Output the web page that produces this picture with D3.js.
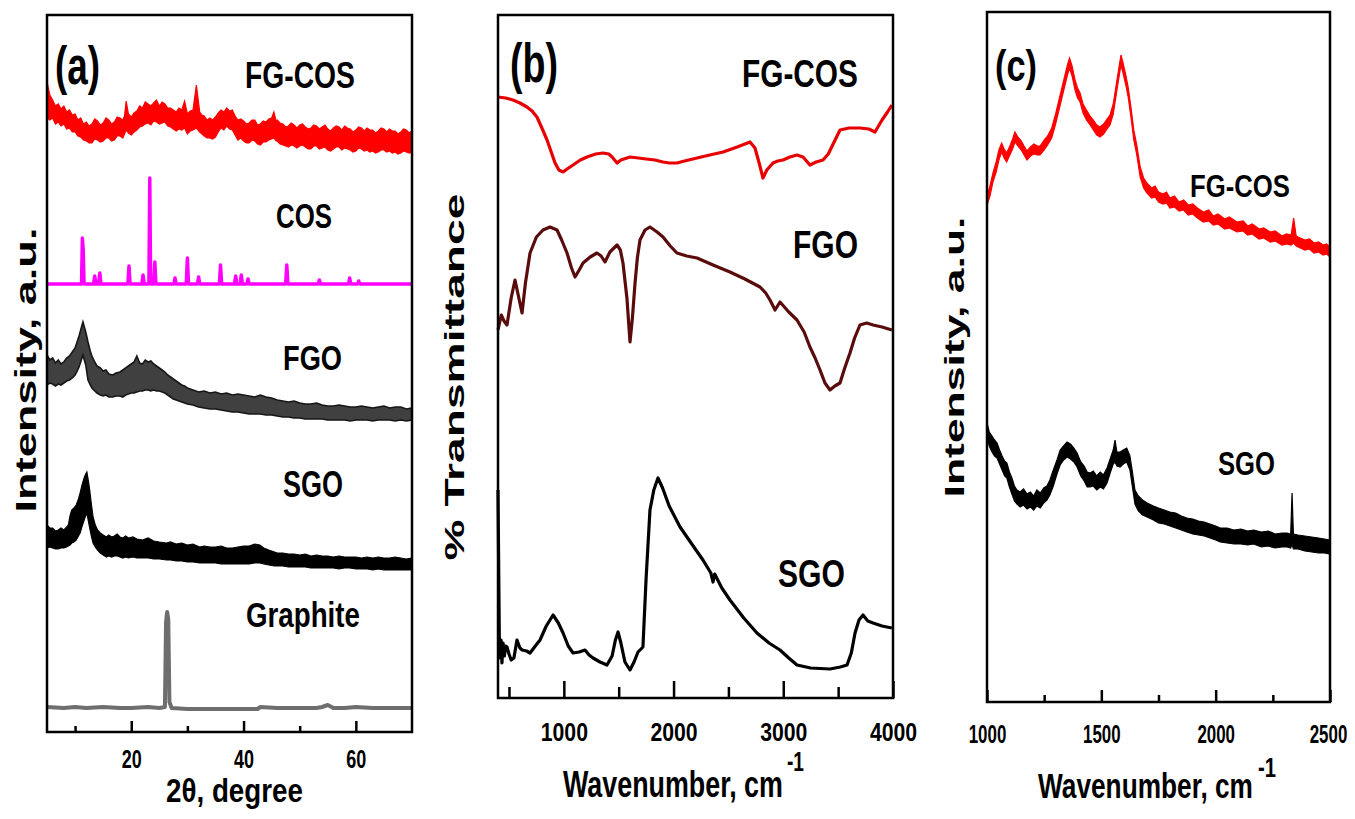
<!DOCTYPE html>
<html>
<head>
<meta charset="utf-8">
<script src="https://cdn.jsdelivr.net/npm/d3@7"></script>
<style>
  body { margin: 0; background: #fff; }
  svg { display: block; }
  text { font-family: "Liberation Sans", Arial, sans-serif; font-weight: bold; }
</style>
</head>
<body>
<svg id="fig" width="1355" height="819"></svg>
<script>
// ---------- (a) XRD patterns: 2θ (degree) vs. stacked intensity (a.u.) ----------
const xrdMajorTicks = [20, 40, 60];
const xrdMinorTicks = [10, 30, 50];

// noisy traces are given as [2θ, upper edge, lower edge] of the recorded band
const xrdFGCOS = [
  [5,650,614],[5.5,637,612],[6,632,614],[6.5,626,608],[7,628,610],[7.5,623,606],[8,626,608],[8.5,620,603],
  [9,622,604],[9.5,617,600],[10,618,600],[10.5,612,596],[11,614,595],[11.5,608,592],[12,610,591],[12.5,606,589],
  [13,608,589],[13.5,613,593],[14,611,592],[14.5,607,590],[15,609,591],[15.5,614,594],[16,612,594],[16.5,608,591],
  [17,610,592],[17.5,615,596],[18,614,596],[18.5,612,594],[18.8,616,598],[19.1,631,602],[19.5,618,599],[20,615,597],
  [20.5,619,600],[21,621,602],[21.5,626,605],[22,624,606],[22.5,630,608],[23,628,609],[23.5,626,607],[24,629,611],
  [24.5,632,610],[25,626,608],[25.5,630,609],[26,628,610],[26.5,624,606],[27,624,605],[27.5,622,603],[28,620,601],
  [28.5,624,603],[29,622,602],[29.5,631,604],[30,618,598],[30.5,621,601],[31,622,602],[31.6,647,604],[32.2,620,600],
  [32.6,617,598],[33,616,596],[33.5,612,594],[34,614,594],[34.5,612,593],[35,615,595],[35.5,619,600],[36,622,604],
  [36.5,620,602],[37,624,606],[37.5,621,603],[38,622,602],[38.5,616,597],[39,612,592],[39.5,613,594],[40,611,591],
  [40.5,608,589],[41,609,589],[41.5,612,592],[42,612,591],[42.5,607,588],[43,608,587],[43.5,611,590],[44,610,590],
  [44.5,613,592],[45,614,593],[45.4,620,594],[45.8,611,591],[46,612,591],[46.5,609,588],[47,608,587],[47.5,605,586],
  [48,606,585],[48.5,609,587],[49,607,586],[49.5,604,584],[50,607,586],[50.5,608,587],[51,605,585],[51.5,603,583],
  [52,604,583],[52.5,607,586],[53,606,586],[53.5,603,583],[54,605,584],[54.5,607,585],[55,603,582],[55.5,601,581],
  [56,604,583],[56.5,606,585],[57,605,585],[57.5,602,582],[58,606,584],[58.5,604,583],[59,603,582],[59.5,600,580],
  [60,602,581],[60.5,605,584],[61,604,583],[61.5,601,581],[62,604,582],[62.5,602,580],[63,602,581],[63.5,599,579],
  [64,601,580],[64.5,604,582],[65,603,582],[65.5,600,580],[66,603,581],[66.5,601,579],[67,601,580],[67.5,598,578],
  [68,600,579],[68.5,603,581],[69,602,580],[69.5,599,579],[70,601,580]
];

// sharp-line pattern: [2θ, intensity]
const xrdCOS = [
  [5,448],[11.15,448],[11.3,494],[11.45,482],[11.6,448],[13.3,448],[13.5,456],[13.7,448],
  [14.2,448],[14.4,459],[14.6,448],[19.4,448],[19.6,466],[19.8,448],[21.9,448],[22.1,457],[22.3,448],
  [23.15,448],[23.3,554],[23.45,448],[24.0,448],[24.2,470],[24.4,448],[27.6,448],[27.8,454],[28.0,448],
  [29.8,448],[30.0,474],[30.2,448],[31.8,448],[32.0,455],[32.2,448],[35.7,448],[35.9,467],[36.1,448],
  [38.4,448],[38.6,456],[38.8,448],[39.4,448],[39.6,457],[39.8,448],[40.6,448],[40.8,453],[41.0,448],
  [47.5,448],[47.7,467],[47.9,448],[53.3,448],[53.5,452],[53.7,448],[58.7,448],[58.9,454],[59.1,448],
  [60.3,448],[60.5,451],[60.7,448],[70,448]
];

const xrdFGO = [
  [5,377,347],[5.5,372,349],[6,374,348],[6.5,369,346],[7,372,348],[7.5,368,347],[8,370,349],[8.5,374,351],
  [9,376,352],[9.5,380,354],[10,384,357],[10.3,389,360],[10.7,396,365],[11,402,370],[11.4,410,377],[11.9,400,367],
  [12.3,390,352],[12.7,381,347],[13,376,344],[13.5,370,341],[13.9,366,339],[14.5,364,337],[15,361,336],[15.5,362,337],
  [16,358,335],[16.7,357,335],[17.3,359,336],[18,360,336],[18.5,362,335],[19,364,337],[19.5,366,338],[20,368,339],
  [20.5,370,339],[21,376,340],[21.5,369,341],[22,368,341],[22.5,372,342],[23,370,342],[23.5,371,341],[24,368,342],
  [24.5,366,341],[25,364,341],[25.5,362,340],[26,360,339],[26.5,357,337],[27,355,335],[27.5,353,333],[28,351,332],
  [28.5,349,331],[29,347,330],[29.5,346,329],[30,344,328],[31,342,327],[32,340,325],[33,341,324],[34,339,323],
  [35,340,323],[36,338,322],[37,339,321],[38,337,320],[39,338,320],[40,337,319],[41,336,318],[42,335,318],
  [43,337,318],[44,335,317],[45,334,317],[46,332,316],[47,331,315],[48,330,315],[49,331,314],[50,329,314],
  [51,328,313],[52,328,313],[53,329,313],[54,327,313],[55,326,312],[56,326,312],[57,327,312],[58,326,312],
  [59,325,311],[60,325,312],[61,326,312],[62,325,312],[63,324,311],[64,325,312],[65,326,312],[66,324,312],
  [67,325,311],[68,325,312],[69,323,311],[70,324,312]
];

const xrdSGO = [
  [5,207,184],[5.5,204,185],[6,204,184],[6.5,201,183],[7,202,183],[7.5,204,184],[8,202,184],[8.5,205,185],
  [8.8,207,186],[9.1,216,187],[9.4,222,189],[9.8,224,190],[10.2,227,192],[10.6,233,196],[10.9,239,199],[11.2,246,205],
  [11.5,252,210],[11.8,257,215],[12.1,260,219],[12.4,250,210],[12.6,242,204],[12.9,228,196],[13.2,215,189],[13.6,207,185],
  [14,202,182],[14.5,199,179],[15,197,177],[15.6,195,175],[16,197,176],[16.5,195,175],[17,196,176],[17.5,198,176],
  [18,195,175],[18.5,194,174],[19,196,175],[19.5,194,174],[20.3,195,175],[21,193,174],[22,192,174],[23,194,174],
  [24,191,173],[25,190,173],[26.3,189,172],[27,190,172],[28,188,171],[29,189,171],[30,187,170],[31,188,170],
  [32.2,185,169],[33,186,169],[34,185,169],[35,185,169],[36,186,168],[37,184,168],[38,184,168],[39,185,168],
  [40,186,168],[41,186,168],[42,188,169],[42.9,187,169],[43.6,184,168],[44.5,182,167],[45.5,180,166],[46,179,166],
  [47,179,166],[48,178,165],[49,178,165],[50,177,165],[51,178,165],[52,176,164],[53,177,164],[54,176,164],
  [55,176,164],[56,175,164],[57,176,163],[58,175,164],[58.9,175,164],[60,175,163],[61,174,163],[62,175,163],
  [63,174,162],[64,175,163],[65,174,162],[66,174,162],[67,175,162],[68,174,162],[69,173,162],[70,174,162]
];

const xrdGraphite = [
  [5,25],[8,24],[10,25],[12,24],[15,25],[18,24],[20,24],[23,25],[25,24],[26.0,25],[26.2,110],[26.4,120],
  [26.6,112],[26.8,30],[27.2,24],[30,23],[35,23],[40,23],[42.5,23],[43,25],[46,24],[50,24],[53,24],
  [54,25],[55,27],[56,24],[58,24],[60,25],[63,24],[66,24],[70,24]
];

// ---------- (b) FTIR spectra: wavenumber (cm-1) vs. stacked % transmittance ----------
const ftirMajorTicks = [1000, 2000, 3000, 4000];
const ftirMinorTicks = [500, 1500, 2500, 3500];

const ftirFGCOS = [
  [400,601],[470,600],[537,598],[600,595],[664,591],[710,587],[755,581],[800,570],[847,558],[885,546],
  [920,535],[955,528],[993,526],[1030,529],[1084,533],[1150,538],[1211,541],[1290,544],[1357,545],[1410,544],
  [1440,541],[1470,537],[1485,535],[1520,538],[1603,541],[1680,540],[1750,539],[1830,538],[1904,536],[1960,535],
  [2031,535],[2100,537],[2214,540],[2330,543],[2451,546],[2580,551],[2697,556],[2742,550],[2780,535],[2815,520],
  [2850,528],[2906,535],[2950,537],[2998,538],[3060,541],[3125,543],[3180,541],[3243,533],[3300,536],[3362,538],
  [3410,544],[3450,553],[3517,568],[3600,570],[3699,570],[3780,569],[3836,566],[3900,578],[3950,586],[3990,593]
];

const ftirFGO = [
  [400,368],[430,383],[455,377],[482,373],[520,400],[555,418],[590,400],[619,385],[650,415],[692,445],
  [750,461],[810,468],[874,471],[938,468],[980,458],[1029,445],[1070,430],[1102,421],[1140,428],[1175,435],
  [1240,441],[1302,445],[1340,442],[1375,436],[1420,446],[1485,453],[1515,448],[1539,435],[1575,400],[1603,356],
  [1625,380],[1649,415],[1670,440],[1694,458],[1740,468],[1785,471],[1850,466],[1904,461],[1970,452],[2031,445],
  [2120,442],[2214,440],[2360,433],[2514,426],[2650,419],[2788,411],[2840,405],[2879,398],[2925,388],[2970,396],
  [3050,386],[3125,378],[3190,366],[3243,351],[3290,340],[3335,328],[3380,315],[3426,308],[3470,312],[3517,315],
  [3560,330],[3608,345],[3650,360],[3699,373],[3760,375],[3818,373],[3900,371],[3990,368]
];

const ftirSGO = [
  [400,208],[412,60],[420,40],[428,58],[436,35],[446,55],[458,42],[470,52],[482,51],[500,44],
  [520,38],[545,40],[573,58],[600,50],[620,48],[660,47],[692,45],[740,52],[783,58],[840,72],
  [902,83],[950,75],[993,65],[1040,52],[1084,45],[1140,46],[1193,48],[1230,43],[1266,40],[1330,36],
  [1393,33],[1440,42],[1470,58],[1494,66],[1520,55],[1557,36],[1603,28],[1640,36],[1676,46],[1721,51],
  [1750,120],[1785,188],[1820,208],[1858,220],[1900,210],[1960,192],[2059,171],[2160,155],[2268,138],[2340,125],
  [2360,116],[2375,124],[2440,110],[2514,98],[2640,80],[2760,65],[2870,55],[2970,48],[3050,40],[3125,33],
  [3250,30],[3426,29],[3520,31],[3581,33],[3620,45],[3654,65],[3690,78],[3727,83],[3770,77],[3818,75],
  [3900,72],[3990,70]
];

// ---------- (c) Raman spectra: Raman shift (cm-1) vs. stacked intensity (a.u.) ----------
const ramanMajorTicks = [1000, 1500, 2000, 2500];
const ramanMinorTicks = [1250, 1750, 2250];

// [wavenumber, upper edge, lower edge]
const ramanFGCOS = [
  [1000,506,497],[1013,516,506],[1026,529,520],[1040,540,530],[1052,552,542],[1064,559,550],[1075,553,544],[1086,549,540],
  [1100,556,547],[1112,563,553],[1122,570,560],[1135,565,556],[1150,561,552],[1162,556,547],[1175,551,542],[1190,555,546],
  [1205,558,548],[1220,556,547],[1232,556,547],[1250,562,552],[1265,566,557],[1283,574,564],[1300,588,578],[1320,607,597],
  [1340,626,616],[1353,638,628],[1361,644,634],[1372,636,626],[1385,622,612],[1396,614,604],[1407,609,600],[1420,598,589],
  [1435,592,582],[1451,586,577],[1465,582,572],[1480,577,567],[1494,575,565],[1510,578,568],[1525,583,573],[1538,587,577],
  [1552,598,588],[1567,620,610],[1578,636,626],[1586,647,637],[1596,638,628],[1608,626,616],[1618,614,604],[1630,594,584],
  [1642,572,562],[1655,557,547],[1670,535,525],[1685,524,514],[1699,519,509],[1720,514,504],[1735,516,505],[1750,510,500],
  [1770,508,498],[1785,510,499],[1800,504,494],[1820,506,495],[1840,500,491],[1860,502,492],[1880,497,487],[1900,498,488],
  [1920,494,484],[1946,490,480],[1970,492,481],[1990,486,477],[2010,488,478],[2040,483,473],[2060,485,474],[2093,480,470],
  [2120,481,471],[2140,476,467],[2160,478,468],[2190,473,463],[2210,474,464],[2239,470,460],[2260,471,461],[2290,466,457],
  [2310,468,458],[2330,467,457],[2341,484,459],[2352,466,456],[2370,464,454],[2390,462,452],[2410,463,453],[2430,459,449],
  [2450,460,450],[2470,457,447],[2485,458,448],[2500,455,445]
];

const ramanSGO = [
  [1000,279,265],[1010,270,256],[1022,266,250],[1033,262,246],[1044,259,244],[1055,252,238],[1066,246,232],[1077,241,226],
  [1087,239,224],[1098,230,215],[1109,224,208],[1120,216,201],[1131,212,198],[1145,210,195],[1160,213,197],[1175,208,193],
  [1190,210,195],[1204,206,192],[1218,212,196],[1233,209,194],[1248,214,199],[1262,216,202],[1275,222,207],[1290,232,216],
  [1306,242,228],[1320,252,237],[1335,256,242],[1350,260,245],[1365,258,243],[1380,254,240],[1394,249,235],[1410,240,226],
  [1425,236,221],[1438,230,215],[1451,229,215],[1465,231,216],[1480,226,212],[1495,230,215],[1509,227,213],[1525,234,219],
  [1540,244,230],[1552,252,238],[1560,262,240],[1568,250,236],[1582,250,235],[1596,252,238],[1611,254,240],[1625,246,232],
  [1636,230,215],[1647,212,198],[1662,206,191],[1680,202,187],[1700,199,185],[1728,196,182],[1750,194,179],[1775,192,178],
  [1800,190,176],[1825,189,174],[1850,186,172],[1874,184,170],[1900,183,168],[1925,181,167],[1950,180,166],[1975,178,164],
  [2000,176,162],[2020,174,160],[2050,174,159],[2080,172,158],[2110,173,158],[2140,171,157],[2166,172,158],[2200,170,155],
  [2230,171,156],[2260,168,154],[2290,169,155],[2312,169,155],[2328,168,154],[2334,209,158],[2340,168,153],[2360,167,153],
  [2390,166,151],[2420,165,150],[2450,164,149],[2475,163,149],[2500,162,148]
];

// ---------- drawing ----------
const svg = d3.select("#fig");

// Size a text so its advance equals `len` and stretch its glyphs vertically
// to an apparent em size of `f`; returns the vertical stretch factor.
function fitText(sel, len, f) {
  sel.attr("font-size", f);
  const w = sel.node().getComputedTextLength();
  const f2 = f * len / w;
  sel.attr("font-size", f2);
  return f / f2;
}

function panel(cfg) {
  const g = svg.append("g");
  const x = d3.scaleLinear().domain(cfg.xDomain).range([cfg.left, cfg.right]);
  const y = d3.scaleLinear().domain([0, cfg.bottom - cfg.top]).range([cfg.bottom, cfg.top]);

  cfg.bands.forEach(b => {
    const area = d3.area().x(d => x(d[0])).y0(d => y(d[2])).y1(d => y(d[1]));
    g.append("path").datum(b.data).attr("d", area)
      .attr("fill", b.color).attr("stroke", b.edgeColor || b.color)
      .attr("stroke-width", b.edge || 1.2).attr("stroke-linejoin", "miter");
  });
  cfg.lines.forEach(l => {
    const line = d3.line().x(d => x(d[0])).y(d => y(d[1]));
    g.append("path").datum(l.data).attr("d", line)
      .attr("fill", "none").attr("stroke", l.color)
      .attr("stroke-width", l.width).attr("stroke-linejoin", "round");
  });

  // frame
  g.append("rect").attr("x", cfg.left).attr("y", cfg.top)
    .attr("width", cfg.right - cfg.left).attr("height", cfg.bottom - cfg.top)
    .attr("fill", "none").attr("stroke", "#000").attr("stroke-width", 2.5);

  // inward ticks on the bottom axis
  const major = d3.axisBottom(x).tickValues(cfg.major).tickSize(-cfg.majorLen)
    .tickFormat(d3.format("d"));
  const minor = d3.axisBottom(x).tickValues(cfg.minor).tickSize(-cfg.minorLen).tickFormat("");
  const ga = g.append("g").attr("transform", `translate(0,${cfg.bottom})`).call(major);
  const gm = g.append("g").attr("transform", `translate(0,${cfg.bottom})`).call(minor);
  [ga, gm].forEach(s => {
    s.select(".domain").remove();
    s.selectAll("line").attr("stroke", "#000").attr("stroke-width", 2.5);
  });
  ga.attr("font-family", null).attr("font-size", null);
  ga.selectAll("text").each(function (d, i, nodes) {
    const t = d3.select(this).attr("fill", "#000").attr("y", 0).attr("dy", null);
    const k = fitText(t, String(d).length * cfg.digitW, cfg.tickFont);
    const dx = (cfg.lastShift && i === nodes.length - 1) ? cfg.lastShift : 0;
    t.attr("transform", `translate(${dx},${cfg.labelBase}) scale(1,${k})`);
  });

  // texts
  cfg.texts.forEach(t => {
    const el = g.append("text").text(t.s).attr("fill", "#000")
      .attr("text-anchor", t.anchor || "start");
    const k = fitText(el, t.len, t.f);
    el.attr("transform", `translate(${t.x},${t.y})${t.rot ? " rotate(-90)" : ""} scale(1,${k})`);
  });
}

panel({
  left: 47, right: 412, top: 15, bottom: 732, xDomain: [5, 70],
  major: xrdMajorTicks, minor: xrdMinorTicks, majorLen: 11, minorLen: 6, labelBase: 36,
  tickFont: 26, digitW: 10,
  bands: [
    { data: xrdFGCOS, color: "#ff0000" },
    { data: xrdFGO, color: "#404040", edgeColor: "#161616", edge: 1.6 },
    { data: xrdSGO, color: "#000000" }
  ],
  lines: [
    { data: xrdCOS, color: "#ff00ff", width: 3.5 },
    { data: xrdGraphite, color: "#6e6e6e", width: 4 }
  ],
  texts: [
    { s: "(a)", x: 55, y: 84, f: 54, len: 45 },
    { s: "FG-COS", x: 245, y: 88, f: 36, len: 110 },
    { s: "COS", x: 276, y: 228, f: 36, len: 56 },
    { s: "FGO", x: 283, y: 370, f: 36, len: 59 },
    { s: "SGO", x: 283, y: 497, f: 36, len: 60 },
    { s: "Graphite", x: 246, y: 627, f: 36, len: 114 },
    { s: "2θ, degree", x: 166, y: 802, f: 34, len: 137 },
    { s: "Intensity, a.u.", x: 36, y: 370, f: 30, len: 285, rot: true, anchor: "middle" }
  ]
});

panel({
  left: 498, right: 893, top: 15, bottom: 698, xDomain: [400, 4000],
  major: ftirMajorTicks, minor: ftirMinorTicks, majorLen: 17, minorLen: 11, labelBase: 43,
  tickFont: 26, digitW: 11.8,
  bands: [],
  lines: [
    { data: ftirFGCOS, color: "#e80000", width: 3.2 },
    { data: ftirFGO, color: "#5a0c0c", width: 3.2 },
    { data: ftirSGO, color: "#000000", width: 3.2 }
  ],
  texts: [
    { s: "(b)", x: 510, y: 82, f: 56, len: 48 },
    { s: "FG-COS", x: 742, y: 87, f: 38, len: 116 },
    { s: "FGO", x: 793, y: 258, f: 38, len: 65 },
    { s: "SGO", x: 778, y: 587, f: 38, len: 67 },
    { s: "Wavenumber, cm", x: 563, y: 797, f: 36, len: 220 },
    { s: "-1", x: 787, y: 771, f: 28, len: 17 },
    { s: "% Transmittance", x: 464, y: 377, f: 28, len: 367, rot: true, anchor: "middle" }
  ]
});

panel({
  left: 987, right: 1330, top: 12, bottom: 702, xDomain: [1000, 2500],
  major: ramanMajorTicks, minor: ramanMinorTicks, majorLen: 12, minorLen: 7, labelBase: 41,
  tickFont: 25, digitW: 9.4, lastShift: -2,
  bands: [
    { data: ramanFGCOS, color: "#ff0000" },
    { data: ramanSGO, color: "#000000" }
  ],
  lines: [],
  texts: [
    { s: "(c)", x: 995, y: 81, f: 44, len: 42 },
    { s: "FG-COS", x: 1190, y: 197, f: 32, len: 100 },
    { s: "SGO", x: 1218, y: 475, f: 34, len: 57 },
    { s: "Wavenumber, cm", x: 1038, y: 798, f: 36, len: 215 },
    { s: "-1", x: 1258, y: 777, f: 28, len: 18 },
    { s: "Intensity, a.u.", x: 964, y: 357, f: 28, len: 281, rot: true, anchor: "middle" }
  ]
});
</script>
</body>
</html>
